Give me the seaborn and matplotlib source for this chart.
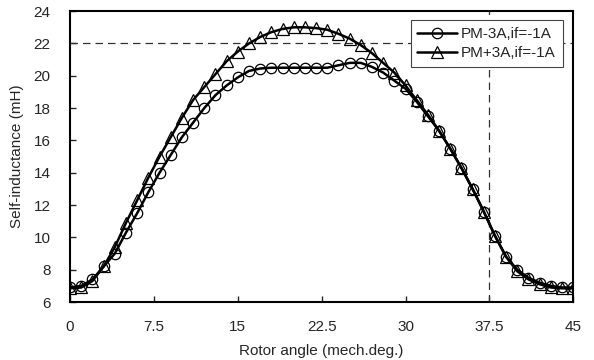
import matplotlib
matplotlib.use("Agg")
import matplotlib.pyplot as plt
import seaborn as sns
import pandas as pd
import numpy as np

# rotor angle in mechanical degrees, one point per degree
angle = list(range(0, 46))

# PM-3A, if=-1A (circles)
pm_minus = [6.9, 7.0, 7.4, 8.2, 9.0, 10.3, 11.5, 12.8, 14.0, 15.1,
            16.2, 17.1, 18.0, 18.8, 19.4, 19.9, 20.3, 20.45, 20.5, 20.5,
            20.5, 20.5, 20.5, 20.5, 20.65, 20.8, 20.8, 20.55, 20.2, 19.7,
            19.2, 18.4, 17.5, 16.6, 15.5, 14.3, 13.0, 11.6, 10.1, 8.8,
            8.0, 7.5, 7.2, 7.0, 6.9, 6.9]

# PM+3A, if=-1A (triangles)
pm_plus = [6.85, 6.9, 7.3, 8.2, 9.4, 10.9, 12.3, 13.7, 15.0, 16.2,
           17.4, 18.5, 19.3, 20.1, 20.9, 21.5, 22.0, 22.4, 22.7, 22.9,
           23.0, 23.0, 22.95, 22.85, 22.6, 22.3, 21.9, 21.4, 20.8, 20.2,
           19.4, 18.5, 17.6, 16.6, 15.5, 14.3, 13.0, 11.6, 10.1, 8.8,
           7.9, 7.4, 7.1, 6.9, 6.85, 6.85]

labels = ["PM-3A,if=-1A", "PM+3A,if=-1A"]
x_ticks = [0, 7.5, 15, 22.5, 30, 37.5, 45]
x_tick_labels = ["0", "7.5", "15", "22.5", "30", "37.5", "45"]
y_ticks = [6, 8, 10, 12, 14, 16, 18, 20, 22, 24]
ref_level = 22
ref_angle = 37.5

sns.set_style("ticks")
plt.rcParams['font.family'] = ['Liberation Sans', 'DejaVu Sans']

df1 = pd.DataFrame({"angle": angle, "L": pm_minus})
df2 = pd.DataFrame({"angle": angle, "L": pm_plus})

fig = plt.figure(figsize=(5.94, 3.6), dpi=100)
ax = fig.add_axes([0.118, 0.161, 0.847, 0.808])

# sparse dashed grid lines
ax.axhline(ref_level, color="#333333", lw=0.9, ls=(0, (6, 4)), zorder=1)
ax.axvline(ref_angle, color="#333333", lw=0.9, ls=(0, (6, 4)), zorder=1)

sns.lineplot(data=df1, x="angle", y="L", ax=ax, color="black", lw=1.8,
             marker="o", markersize=7.5, markerfacecolor="none",
             markeredgecolor="black", markeredgewidth=0.9, label=labels[0])
sns.lineplot(data=df2, x="angle", y="L", ax=ax, color="black", lw=1.8,
             marker="^", markersize=8, markerfacecolor="none",
             markeredgecolor="black", markeredgewidth=0.9, label=labels[1])

ax.set_xlim(0, 45)
ax.set_ylim(6, 24)
ax.set_xticks(x_ticks)
ax.set_xticklabels(x_tick_labels)
ax.set_yticks(y_ticks)
ax.tick_params(axis="x", direction="in", length=4, width=1, labelsize=11, pad=13)
ax.tick_params(axis="y", direction="in", length=4, width=1, labelsize=11, pad=14)
for s in ax.spines.values():
    s.set_linewidth(1.5)
    s.set_color("black")

ax.set_xlabel("Rotor angle (mech.deg.)", fontsize=11, labelpad=7)
ax.set_ylabel("Self-inductance (mH)", fontsize=11, labelpad=7)

leg = ax.legend(loc="upper right", bbox_to_anchor=(0.985, 0.98), fontsize=11,
                frameon=True, fancybox=False, framealpha=1, edgecolor="#444444",
                handlelength=2.6, handletextpad=0.25, borderpad=0.45,
                labelspacing=0.35, borderaxespad=0.2)
leg.get_frame().set_linewidth(0.8)
leg.set_zorder(5)

fig.savefig("out.png", dpi=100)
